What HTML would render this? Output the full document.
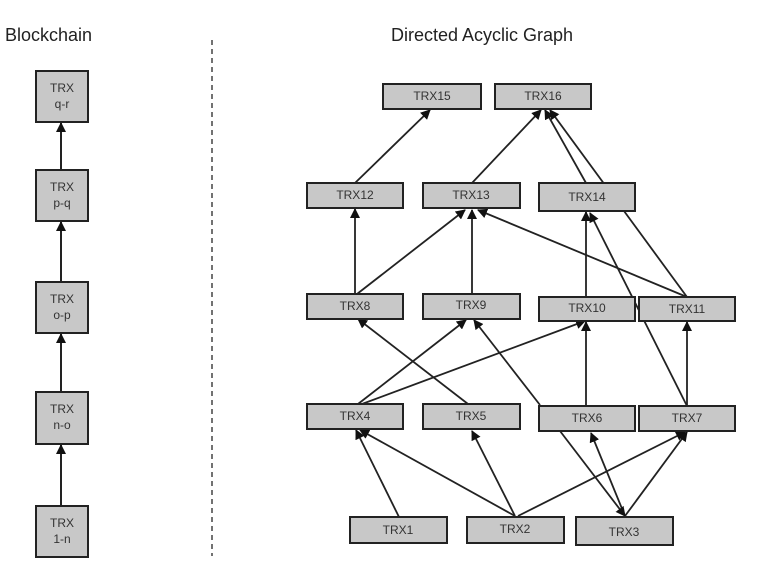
<!DOCTYPE html>
<html><head><style>body{margin:0;background:#fff}svg{display:block}</style></head><body>
<svg width="759" height="573" xmlns="http://www.w3.org/2000/svg" font-family="Liberation Sans, sans-serif">
<defs><marker id="a" markerWidth="10" markerHeight="10" refX="9" refY="5" orient="auto" markerUnits="userSpaceOnUse"><path d="M0,0 L10,5 L0,10 z" fill="#111"/></marker></defs>
<text x="5" y="41" font-size="18" fill="#222">Blockchain</text>
<text x="482" y="41" font-size="18" fill="#222" text-anchor="middle">Directed Acyclic Graph</text>
<line x1="212" y1="40" x2="212" y2="556" stroke="#444" stroke-width="1.5" stroke-dasharray="5,4"/>
<g stroke="#222" stroke-width="2" marker-end="url(#a)">
<line x1="61" y1="170" x2="61" y2="123"/>
<line x1="61" y1="282" x2="61" y2="222"/>
<line x1="61" y1="392" x2="61" y2="334"/>
<line x1="61" y1="506" x2="61" y2="445"/>
</g>
<g fill="#c8c8c8" stroke="#222" stroke-width="2">
<rect x="36" y="71" width="52" height="51"/><rect x="36" y="170" width="52" height="51"/><rect x="36" y="282" width="52" height="51"/><rect x="36" y="392" width="52" height="52"/><rect x="36" y="506" width="52" height="51"/>
</g>
<g font-size="12" fill="#333" text-anchor="middle">
<text x="62" y="92">TRX</text><text x="62" y="108">q-r</text>
<text x="62" y="191">TRX</text><text x="62" y="207">p-q</text>
<text x="62" y="303">TRX</text><text x="62" y="319">o-p</text>
<text x="62" y="413">TRX</text><text x="62" y="429">n-o</text>
<text x="62" y="527">TRX</text><text x="62" y="543">1-n</text>
</g>
<g stroke="#222" stroke-width="1.8" marker-end="url(#a)">
<line x1="355" y1="183" x2="430" y2="110"/>
<line x1="472" y1="183" x2="541" y2="110"/>
<line x1="586" y1="183" x2="545" y2="110"/>
<line x1="687" y1="297" x2="550" y2="110"/>
<line x1="355" y1="294" x2="355" y2="209"/>
<line x1="357" y1="294" x2="465" y2="210"/>
<line x1="472" y1="294" x2="472" y2="210"/>
<line x1="687" y1="297" x2="478" y2="210"/>
<line x1="586" y1="297" x2="586" y2="212"/>
<line x1="687" y1="406" x2="590" y2="213"/>
<line x1="468" y1="404" x2="358" y2="319"/>
<line x1="358" y1="404" x2="466" y2="320"/>
<line x1="362" y1="404" x2="585" y2="321"/>
<line x1="540" y1="405" x2="474" y2="320"/>
<line x1="586" y1="406" x2="586" y2="322"/>
<line x1="687" y1="406" x2="687" y2="322"/>
<line x1="399" y1="517" x2="356" y2="430"/>
<line x1="515" y1="516" x2="360" y2="430"/>
<line x1="515" y1="516" x2="472" y2="431"/>
<line x1="518" y1="516" x2="685" y2="432"/>
<line x1="625" y1="516" x2="591" y2="433"/>
<line x1="625" y1="516" x2="687" y2="432"/>
<line x1="560" y1="431" x2="625" y2="516" marker-end=""/>
</g>
<g fill="#c8c8c8" stroke="#222" stroke-width="2">
<rect x="383" y="84" width="98" height="25"/><rect x="495" y="84" width="96" height="25"/>
<rect x="307" y="183" width="96" height="25"/><rect x="423" y="183" width="97" height="25"/><rect x="539" y="183" width="96" height="28"/>
<rect x="307" y="294" width="96" height="25"/><rect x="423" y="294" width="97" height="25"/><rect x="539" y="297" width="96" height="24"/><rect x="639" y="297" width="96" height="24"/>
<rect x="307" y="404" width="96" height="25"/><rect x="423" y="404" width="97" height="25"/><rect x="539" y="406" width="96" height="25"/><rect x="639" y="406" width="96" height="25"/>
<rect x="350" y="517" width="97" height="26"/><rect x="467" y="517" width="97" height="26"/><rect x="576" y="517" width="97" height="28"/>
</g>
<g font-size="12" fill="#333" text-anchor="middle">
<text x="432" y="100">TRX15</text><text x="543" y="100">TRX16</text>
<text x="355" y="199">TRX12</text><text x="471" y="199">TRX13</text><text x="587" y="201">TRX14</text>
<text x="355" y="310">TRX8</text><text x="471" y="309">TRX9</text><text x="587" y="312">TRX10</text><text x="687" y="313">TRX11</text>
<text x="355" y="420">TRX4</text><text x="471" y="420">TRX5</text><text x="587" y="422">TRX6</text><text x="687" y="422">TRX7</text>
<text x="398" y="534">TRX1</text><text x="515" y="533">TRX2</text><text x="624" y="536">TRX3</text>
</g>
</svg>
</body></html>
